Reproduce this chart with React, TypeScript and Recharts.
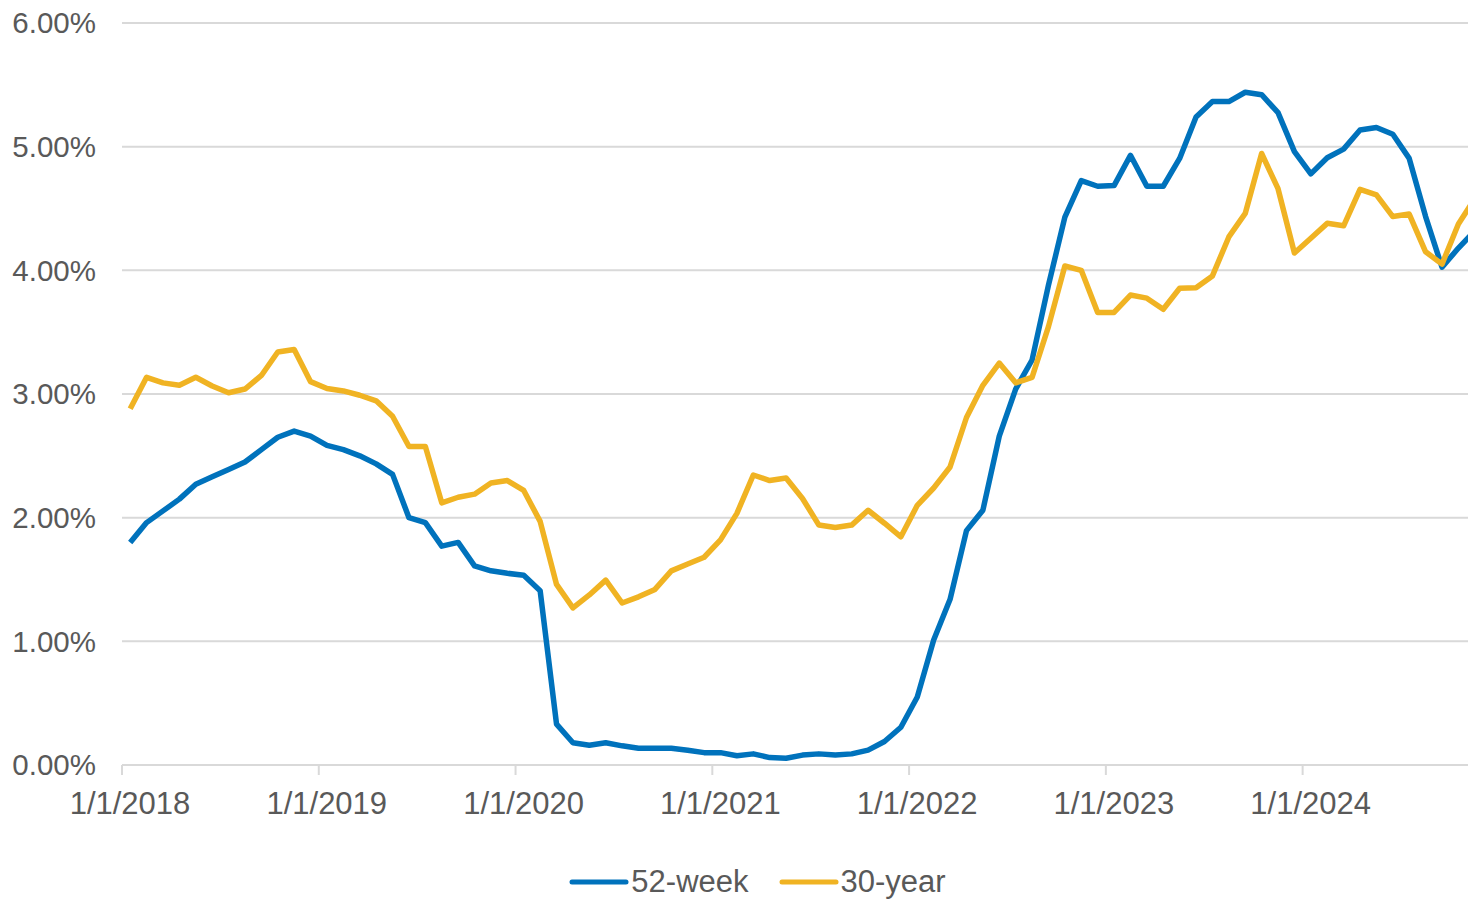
import React from "react";
import {
  CartesianGrid,
  Legend,
  Line,
  LineChart,
  XAxis,
  YAxis,
} from "recharts";

// monthly yields, Jan 2018 .. Nov 2024 (percent)
const week52 = [
  1.8, 1.96, 2.055, 2.15, 2.27, 2.33, 2.39, 2.45, 2.55, 2.65, 2.7, 2.66,
  2.585, 2.55, 2.5, 2.435, 2.35, 2.0, 1.96, 1.77, 1.8, 1.61, 1.57, 1.55,
  1.535, 1.41, 0.33, 0.18, 0.16, 0.18, 0.155, 0.135, 0.135, 0.135, 0.12, 0.1,
  0.1, 0.075, 0.09, 0.06, 0.054, 0.08, 0.09, 0.08, 0.09, 0.12, 0.19, 0.305,
  0.55, 1.01, 1.34, 1.895, 2.06, 2.66, 3.04, 3.275, 3.88, 4.43, 4.725, 4.68,
  4.685, 4.93, 4.68, 4.68, 4.905, 5.24, 5.365, 5.365, 5.44, 5.42, 5.275, 4.96,
  4.78, 4.91, 4.98, 5.135, 5.155, 5.1, 4.905, 4.435, 4.025, 4.18, 4.32,
];

const year30 = [
  2.88, 3.135, 3.09, 3.07, 3.135, 3.065, 3.01, 3.04, 3.15, 3.34, 3.36, 3.1,
  3.045, 3.025, 2.99, 2.945, 2.82, 2.575, 2.575, 2.12, 2.165, 2.19, 2.28, 2.3,
  2.22, 1.97, 1.46, 1.27, 1.375, 1.495, 1.31, 1.36, 1.42, 1.57, 1.625, 1.68,
  1.82, 2.035, 2.345, 2.3, 2.32, 2.155, 1.94, 1.92, 1.94, 2.06, 1.955, 1.845,
  2.1, 2.24, 2.41, 2.81, 3.07, 3.25, 3.09, 3.135, 3.545, 4.035, 4.0, 3.66,
  3.66, 3.8, 3.775, 3.685, 3.855, 3.86, 3.955, 4.27, 4.46, 4.945, 4.66, 4.14,
  4.26, 4.38, 4.36, 4.655, 4.61, 4.435, 4.455, 4.15, 4.05, 4.375, 4.58,
];

const seriesNames = ["52-week", "30-year"];
const yearTicks = [0, 12, 24, 36, 48, 60, 72];
const yearLabels = [
  "1/1/2018",
  "1/1/2019",
  "1/1/2020",
  "1/1/2021",
  "1/1/2022",
  "1/1/2023",
  "1/1/2024",
];
const yTicks = [0, 1, 2, 3, 4, 5, 6];

const BLUE = "#0072BC";
const GOLD = "#F0B323";
const TEXT = "#595959";
const GRID = "#d9d9d9";
const FONT = "'Liberation Sans', Arial, sans-serif";

// x is month index; each point sits mid-month
const data = week52.map((v, i) => ({ x: i + 0.5, w52: v, y30: year30[i] }));

const XTick = (props: any) => {
  const { x, y, payload } = props;
  const idx = yearTicks.indexOf(payload.value);
  return (
    <text
      x={x + 8}
      y={y}
      dy="0.71em"
      textAnchor="middle"
      fill={TEXT}
      fontSize={31}
      fontFamily={FONT}
    >
      {yearLabels[idx]}
    </text>
  );
};

const LegendContent = (props: any) => {
  const items = [...(props.payload || [])].sort(
    (a: any, b: any) => seriesNames.indexOf(a.value) - seriesNames.indexOf(b.value)
  );
  return (
    <div
      style={{
        display: "flex",
        justifyContent: "center",
        alignItems: "center",
        height: 34,
        paddingLeft: 32,
        fontFamily: FONT,
        fontSize: 31,
        color: TEXT,
      }}
    >
      {items.map((entry: any, i: number) => (
        <span
          key={entry.value}
          style={{
            display: "inline-flex",
            alignItems: "center",
            marginLeft: i > 0 ? 30 : 0,
          }}
        >
          <svg width={60} height={10} style={{ marginRight: 2 }}>
            <line
              x1={3}
              y1={5}
              x2={57}
              y2={5}
              stroke={entry.color}
              strokeWidth={5}
              strokeLinecap="round"
            />
          </svg>
          <span>{entry.value}</span>
        </span>
      ))}
    </div>
  );
};

export default function App() {
  return (
    <div
      style={{
        position: "fixed",
        top: 0,
        left: 0,
        width: 1468,
        height: 899,
        overflow: "hidden",
        background: "#fff",
      }}
    >
      <LineChart
        width={1483}
        height={899}
        data={data}
        margin={{ top: 23, right: 0, bottom: 0, left: 0 }}
      >
        <CartesianGrid vertical={false} stroke={GRID} strokeWidth={2} />
        <XAxis
          dataKey="x"
          type="number"
          domain={[0, 83]}
          ticks={yearTicks}
          interval={0}
          height={100}
          axisLine={{ stroke: GRID, strokeWidth: 2 }}
          tickLine={{ stroke: GRID, strokeWidth: 2 }}
          tickSize={10}
          tickMargin={17}
          tick={<XTick />}
        />
        <YAxis
          type="number"
          domain={[0, 6]}
          ticks={yTicks}
          width={122}
          axisLine={false}
          tickLine={false}
          tickSize={0}
          tickMargin={26}
          tickFormatter={(v: number) => `${v.toFixed(2)}%`}
          tick={{ fill: TEXT, fontSize: 29.5, fontFamily: FONT }}
        />
        <Legend verticalAlign="bottom" height={34} content={<LegendContent />} />
        <Line
          name="52-week"
          dataKey="w52"
          stroke={BLUE}
          strokeWidth={5.5}
          dot={false}
          strokeLinejoin="round"
          isAnimationActive={false}
        />
        <Line
          name="30-year"
          dataKey="y30"
          stroke={GOLD}
          strokeWidth={5.5}
          dot={false}
          strokeLinejoin="round"
          isAnimationActive={false}
        />
      </LineChart>
    </div>
  );
}
